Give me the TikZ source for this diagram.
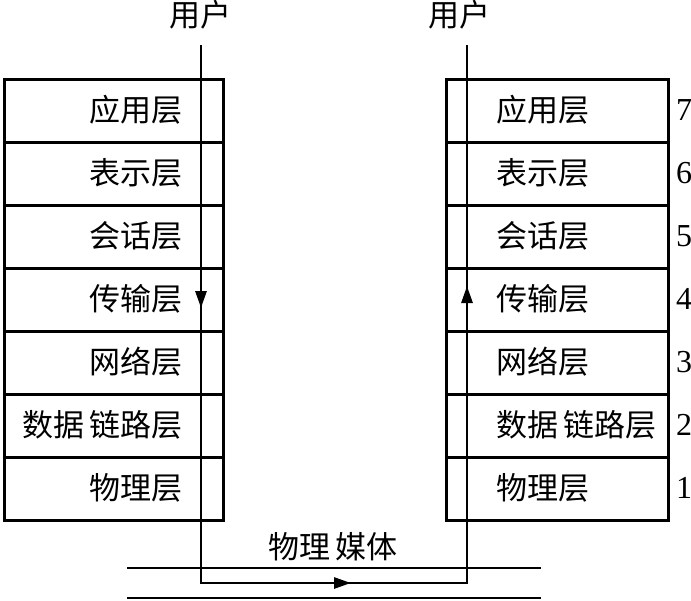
\documentclass[tikz,border=0pt]{standalone}
\usepackage{fontspec}
\newfontfamily\cjk{Noto Sans CJK SC}
\newfontfamily\numfont{Liberation Serif}
\usetikzlibrary{arrows.meta}
\begin{document}
\begin{tikzpicture}[x=1pt,y=-1pt,
  layerbox/.style={draw,line width=2.8pt,minimum width=#1,minimum height=63pt,inner sep=0pt,anchor=north west},
  lbl/.style={font=\cjk\fontsize{31}{32}\selectfont,inner sep=0pt},
  num/.style={font=\numfont\fontsize{32}{32}\selectfont,inner sep=0pt,anchor=west},
  wire/.style={line width=2.8pt},
  tip/.style={-{Triangle[length=17pt,width=11pt]},line width=2.8pt}]
\useasboundingbox (0,0) rectangle (691,600);
\fill[white] (0,0) rectangle (691,600);
% stacks
\foreach \i/\t/\n in {1/应用层/7,2/表示层/6,3/会话层/5,4/传输层/4,5/网络层/3,6/数据\,链路层/2,7/物理层/1}{
  \node[layerbox=219pt] (L\i) at (3,{78+(\i-1)*63}) {};
  \node[layerbox=222pt] (R\i) at (445,{78+(\i-1)*63}) {};
  \node[lbl,anchor=east] (LT\i) at (183,{110+(\i-1)*63}) {\t};
  \node[lbl,anchor=west] (RT\i) at (496,{110+(\i-1)*63}) {\t};
  \node[num] (N\i) at (676,{110+(\i-1)*63}) {\n};
}
% users
\node[lbl] (UL) at (200,15) {用户};
\node[lbl] (UR) at (459,15) {用户};
% physical medium
\coordinate (m1a) at (127,568);
\coordinate (m1b) at (541,568);
\coordinate (m2a) at (127,598);
\coordinate (m2b) at (541,598);
\draw[wire] (m1a) -- (m1b);
\draw[wire] (m2a) -- (m2b);
\node[lbl] (PM) at (333,547) {物理\,媒体};
% data path
\coordinate (pL0) at (201,45);
\coordinate (pL1) at (201,583);
\coordinate (pR1) at (467,583);
\coordinate (pR0) at (467,45);
\draw[wire] (pL0) -- (pL1) -- (pR1) -- (pR0);
% arrowheads
\coordinate (aL0) at (201,290);
\coordinate (aL1) at (201,308);
\coordinate (aR0) at (467,304);
\coordinate (aR1) at (467,286);
\coordinate (aB0) at (330,583);
\coordinate (aB1) at (351,583);
\draw[tip] (aL0) -- (aL1);
\draw[tip] (aR0) -- (aR1);
\draw[tip] (aB0) -- (aB1);
\end{tikzpicture}
\end{document}
